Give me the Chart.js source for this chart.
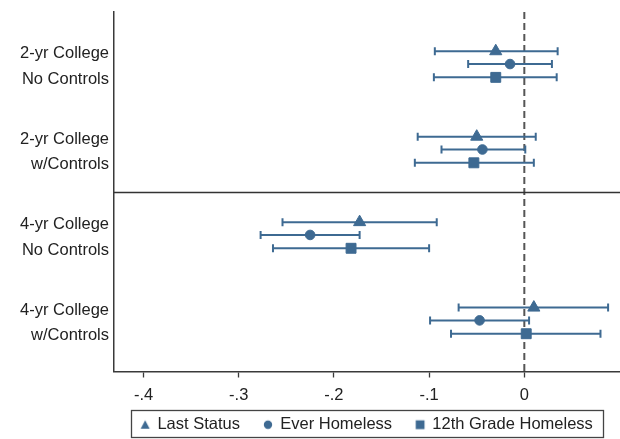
<!DOCTYPE html>
<html>
<head>
<meta charset="utf-8">
<script src="https://cdn.jsdelivr.net/npm/chart.js@4.4.0/dist/chart.umd.min.js"></script>
<style>
  html, body { margin: 0; padding: 0; background: #fff; }
  #wrap { width: 620px; height: 439px; }
</style>
</head>
<body>
<div id="wrap"><canvas id="coefChart"></canvas></div>
<script>
// Row labels, top to bottom
const rowLabels = [
  ["2-yr College", "No Controls"],
  ["2-yr College", "w/Controls"],
  ["4-yr College", "No Controls"],
  ["4-yr College", "w/Controls"],
];
const seriesNames = ["Last Status", "Ever Homeless", "12th Grade Homeless"];

// Point estimates, one per row
const lastStatus = [-0.030, -0.050, -0.173, 0.010];
const everHomeless = [-0.015, -0.044, -0.225, -0.047];
const grade12Homeless = [-0.030, -0.053, -0.182, 0.002];

// Confidence interval bounds
const lastStatusLo = [-0.094, -0.112, -0.254, -0.069];
const lastStatusHi = [0.035, 0.012, -0.092, 0.088];
const everHomelessLo = [-0.059, -0.087, -0.277, -0.099];
const everHomelessHi = [0.029, 0.001, -0.173, 0.005];
const grade12HomelessLo = [-0.095, -0.115, -0.264, -0.077];
const grade12HomelessHi = [0.034, 0.010, -0.100, 0.080];

const xTicks = [-0.4, -0.3, -0.2, -0.1, 0];

const blue = "#3e6a92";
const ink = "#3a3a3a";
const fontFamily = "'Liberation Sans', Arial, sans-serif";

// vertical offset of each series inside a row
const offsets = [-0.15, 0, 0.156];
const styles = ["triangle", "circle", "rect"];
const radii = [7, 4.8, 7];

const estimates = [lastStatus, everHomeless, grade12Homeless];
const lows = [lastStatusLo, everHomelessLo, grade12HomelessLo];
const highs = [lastStatusHi, everHomelessHi, grade12HomelessHi];

const datasets = [];

// markers first so they are drawn on top
estimates.forEach((vals, s) => {
  datasets.push({
    label: seriesNames[s],
    data: vals.map((v, i) => ({ x: v, y: i + 1 + offsets[s] })),
    showLine: false,
    pointStyle: styles[s],
    pointRadius: radii[s],
    pointHoverRadius: radii[s],
    backgroundColor: blue,
    borderColor: blue,
    borderWidth: 1,
    order: 0,
  });
});

// one short line per interval, caps drawn as rotated line points
lows.forEach((lo, s) => {
  lo.forEach((l, i) => {
    datasets.push({
      label: "ci",
      data: [
        { x: l, y: i + 1 + offsets[s] },
        { x: highs[s][i], y: i + 1 + offsets[s] },
      ],
      showLine: true,
      borderColor: blue,
      borderWidth: 2,
      pointStyle: "line",
      pointRotation: 90,
      pointRadius: 4,
      pointBorderWidth: 2,
      pointBorderColor: blue,
      order: 1,
    });
  });
});

// small legend symbols, drawn once on little canvases
function legendSymbol(kind) {
  const c = document.createElement("canvas");
  c.width = 12;
  c.height = 12;
  const g = c.getContext("2d");
  g.fillStyle = blue;
  g.beginPath();
  if (kind === "triangle") {
    g.moveTo(6, 1.5);
    g.lineTo(10.5, 10);
    g.lineTo(1.5, 10);
    g.closePath();
  } else if (kind === "circle") {
    g.arc(6, 6, 4.2, 0, Math.PI * 2);
  } else {
    g.rect(1.6, 1.6, 8.8, 8.8);
  }
  g.fill();
  return c;
}
const legendIcons = styles.map(legendSymbol);

// reference lines and legend frame
const extras = {
  id: "extras",
  afterLayout(chart) {
    // let the x tick labels draw below the (short) axis box
    chart.scales.x.bottom = chart.height;
  },
  beforeDatasetsDraw(chart) {
    const { ctx, chartArea, scales } = chart;
    const x0 = scales.x.getPixelForValue(0);
    ctx.save();
    ctx.strokeStyle = "#555";
    ctx.lineWidth = 2;
    ctx.setLineDash([7, 4]);
    ctx.beginPath();
    ctx.moveTo(x0, chartArea.top);
    ctx.lineTo(x0, chartArea.bottom);
    ctx.stroke();
    ctx.setLineDash([]);
    const ySep = Math.round(scales.y.getPixelForValue(2.5)) + 0.5;
    ctx.strokeStyle = "#333";
    ctx.lineWidth = 1.5;
    ctx.beginPath();
    ctx.moveTo(chartArea.left, ySep);
    ctx.lineTo(chartArea.right, ySep);
    ctx.stroke();
    ctx.restore();
  },
  afterDraw(chart) {
    const boxes = chart.legend.legendHitBoxes;
    if (!boxes || !boxes.length) return;
    const first = boxes[0];
    const last = boxes[boxes.length - 1];
    const ctx = chart.ctx;
    ctx.save();
    ctx.strokeStyle = "#444";
    ctx.lineWidth = 1.3;
    const left = Math.round(first.left) - 9.5;
    const right = Math.round(last.left + last.width) + 10.5;
    const top = Math.round(first.top) - 6.5;
    ctx.strokeRect(left, top, right - left, 27);
    ctx.restore();
  },
};

new Chart(document.getElementById("coefChart"), {
  type: "scatter",
  data: { datasets },
  options: {
    responsive: true,
    maintainAspectRatio: false,
    animation: false,
    layout: { autoPadding: false, padding: { top: 12, right: 0, bottom: -4, left: 0 } },
    plugins: {
      tooltip: { enabled: false },
      legend: {
        position: "bottom",
        fullSize: false,
        labels: {
          usePointStyle: true,
          boxWidth: 8,
          boxHeight: 8,
          padding: 24,
          color: "#222",
          font: { family: fontFamily, size: 16.5 },
          generateLabels: (chart) => {
            const items = Chart.defaults.plugins.legend.labels.generateLabels(chart);
            return items
              .filter((it) => it.text !== "ci")
              .map((it) => ({ ...it, pointStyle: legendIcons[it.datasetIndex], rotation: 0 }));
          },
        },
      },
    },
    scales: {
      x: {
        type: "linear",
        min: -0.431,
        max: 0.1005,
        afterBuildTicks: (scale) => {
          scale.ticks = xTicks.map((v) => ({ value: v }));
        },
        afterFit: (scale) => {
          scale.height = 21;
          scale.paddingLeft = 0;
          scale.paddingRight = 0;
        },
        ticks: {
          color: "#222",
          padding: 8,
          font: { family: fontFamily, size: 16.5 },
          callback: (v) => (v === 0 ? "0" : v.toFixed(1).replace("0.", ".")),
        },
        grid: {
          drawOnChartArea: false,
          drawTicks: true,
          tickLength: 6,
          tickColor: ink,
          tickWidth: 1.3,
        },
        border: { display: true, color: ink, width: 1.5 },
      },
      y: {
        type: "linear",
        reverse: true,
        min: 0.391,
        max: 4.598,
        afterBuildTicks: (scale) => {
          scale.ticks = rowLabels.map((_, i) => ({ value: i + 1 }));
        },
        afterFit: (scale) => {
          scale.width = 114;
          scale.paddingTop = 0;
          scale.paddingBottom = 0;
        },
        ticks: {
          color: "#222",
          padding: 5,
          labelOffset: 2.5,
          font: { family: fontFamily, size: 16.5, lineHeight: 1.55 },
          callback: (v) => rowLabels[Math.round(v) - 1],
        },
        grid: { display: false, drawTicks: false },
        border: { display: true, color: ink, width: 1.5 },
      },
    },
  },
  plugins: [extras],
});
</script>
</body>
</html>
